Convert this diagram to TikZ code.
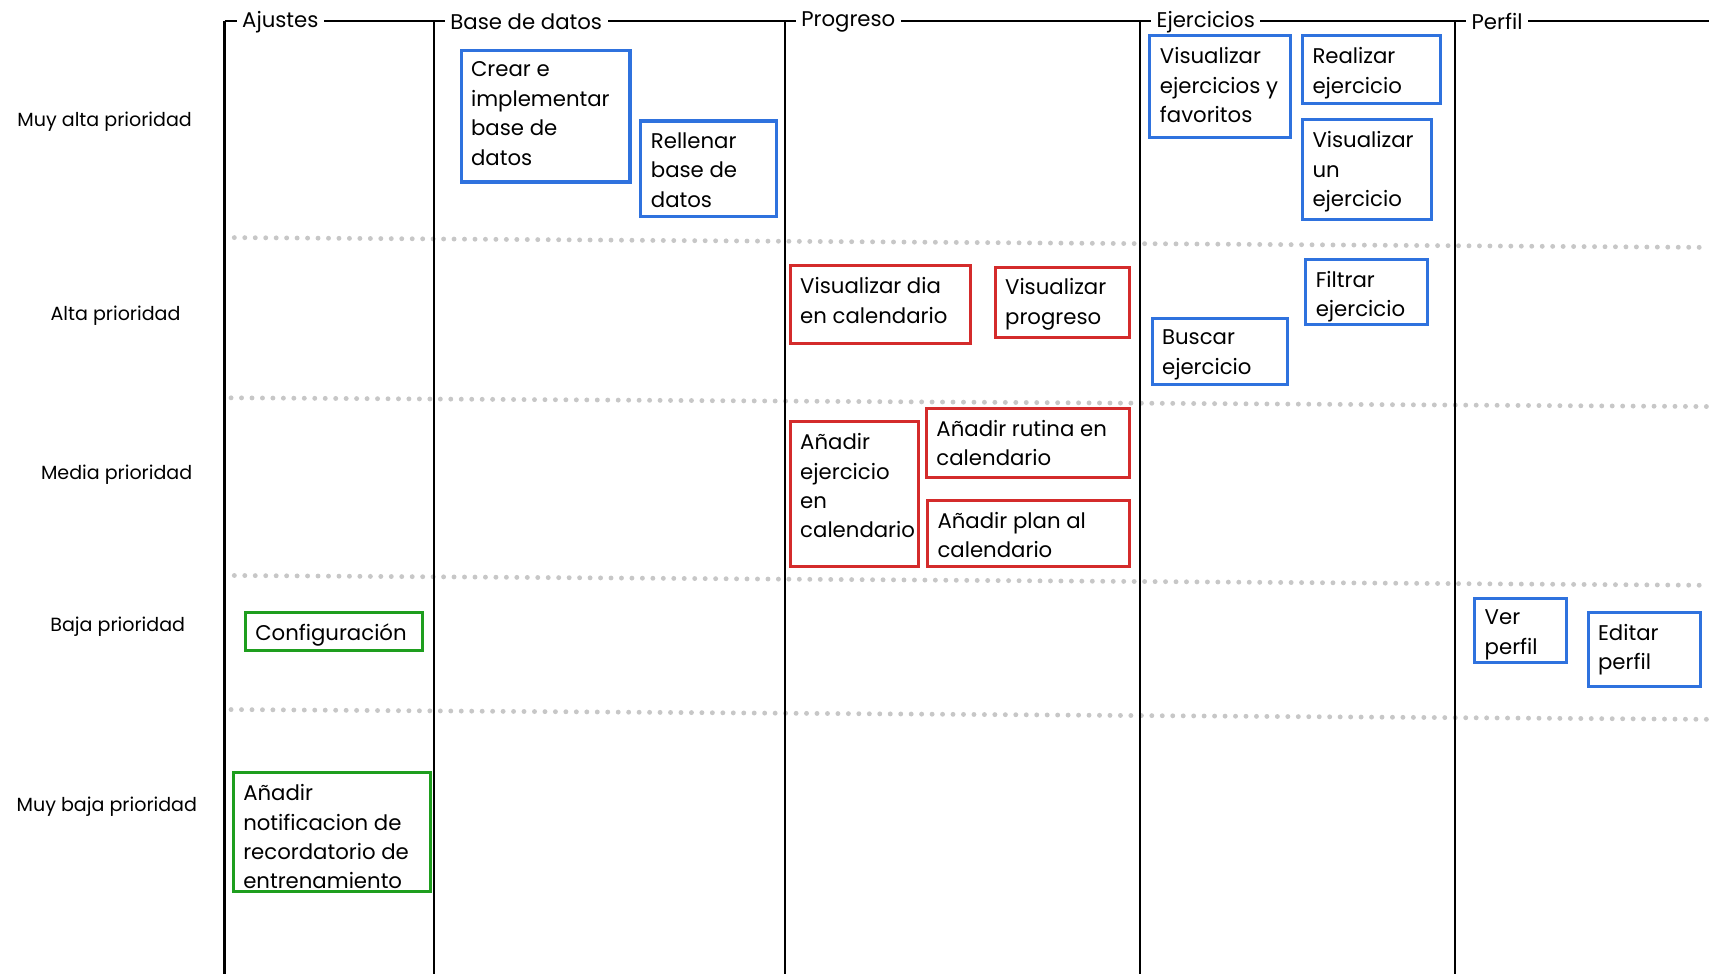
\documentclass[tikz,border=0pt]{standalone}
\usepackage{fontspec}
\setmainfont{Poppins}
\definecolor{taskblue}{HTML}{2F72DE}
\definecolor{taskred}{HTML}{D42B2B}
\definecolor{taskgreen}{HTML}{1E9E1E}
\tikzset{
  lane/.style={line width=2.2pt, draw=black},
  rowsep/.style={draw=black!22, line width=4.5pt, line cap=round, dash pattern=on 0pt off 9.6pt},
  rowlabel/.style={font=\fontsize{17.5}{22}\selectfont, inner sep=0pt},
  header/.style={font=\fontsize{19.5}{24}\selectfont, fill=white, inner xsep=5pt, inner ysep=1pt, anchor=west},
  taskframe/.style={draw, line width=2.8pt, inner sep=0pt, outer sep=0pt, anchor=north west},
  tasktext/.style={font=\fontsize{19.5}{27}\selectfont, align=left, inner sep=0pt, anchor=north west},
}
% \taskbox{name}{colour}{left}{top}{right}{bottom}{text}
\newcommand\taskbox[7]{%
  \node[taskframe, draw=#2, minimum width={#5-#3}, minimum height={#6-#4}] (#1) at (#3,#4) {};
  \node[tasktext] (#1-t) at ([xshift=9pt,yshift=-10.5pt]#1.north west) {#7};
}
\begin{document}
\begin{tikzpicture}[x=1pt, y=-1pt]
\useasboundingbox (0,0) rectangle (1568,894);

% priority separators
\draw[rowsep] (215,218) -- (1568,227);
\draw[rowsep] (212,365) -- (1568,373);
\draw[rowsep] (215,528) -- (1568,537);
\draw[rowsep] (212,651) -- (1568,660);

% swimlanes
\draw[lane] (206,19) -- (1568,19);
\foreach \lx in {206,398,720,1046,1335}
  \draw[lane] (\lx,19) -- (\lx,894);

\node[header] (hAjustes) at (217,20) {Ajustes};
\node[header] (hBase) at (408,20) {Base de datos};
\node[header] (hProgreso) at (730,20) {Progreso};
\node[header] (hEjercicios) at (1056,20) {Ejercicios};
\node[header] (hPerfil) at (1345,20) {Perfil};

% priority labels
\node[rowlabel] (pMuyAlta) at (96,112) {Muy alta prioridad};
\node[rowlabel] (pAlta) at (106,290) {Alta prioridad};
\node[rowlabel] (pMedia) at (107,436) {Media prioridad};
\node[rowlabel] (pBaja) at (108,575) {Baja prioridad};
\node[rowlabel] (pMuyBaja) at (98,740) {Muy baja prioridad};

% tasks
\taskbox{crear}{taskblue}{423}{46}{578}{167}{Crear e\\implementar\\base de\\datos}
\taskbox{rellenar}{taskblue}{588}{111}{712}{199}{Rellenar\\base de\\datos}
\taskbox{visfav}{taskblue}{1055}{33}{1184}{126}{Visualizar\\ejercicios y\\favoritos}
\taskbox{realizar}{taskblue}{1195}{33}{1322}{95}{Realizar\\ejercicio}
\taskbox{visuno}{taskblue}{1195}{110}{1313}{201}{Visualizar\\un\\ejercicio}
\taskbox{filtrar}{taskblue}{1198}{238}{1310}{298}{Filtrar\\ejercicio}
\taskbox{buscar}{taskblue}{1057}{292}{1181}{353}{Buscar\\ejercicio}
\taskbox{verperfil}{taskblue}{1353}{549}{1437}{608}{Ver\\perfil}
\taskbox{editperfil}{taskblue}{1457}{562}{1560}{630}{Editar\\perfil}

\taskbox{visdia}{taskred}{725}{244}{890}{315}{Visualizar dia\\en calendario}
\taskbox{visprog}{taskred}{913}{245}{1036}{310}{Visualizar\\progreso}
\taskbox{addej}{taskred}{725}{387}{843}{520}{Añadir\\ejercicio\\en\\calendario}
\taskbox{addrut}{taskred}{850}{375}{1036}{438}{Añadir rutina en\\calendario}
\taskbox{addplan}{taskred}{851}{459}{1036}{520}{Añadir plan al\\calendario}

\taskbox{config}{taskgreen}{225}{562}{388}{597}{Configuración}
\taskbox{notif}{taskgreen}{214}{709}{395}{818}{Añadir\\notificacion de\\recordatorio de\\entrenamiento}
\end{tikzpicture}
\end{document}
